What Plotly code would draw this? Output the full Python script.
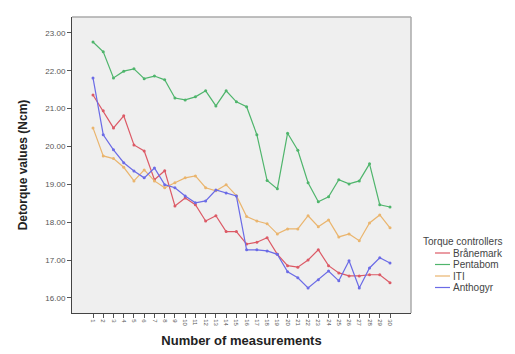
import plotly.graph_objects as go

measurements = list(range(1, 31))
tick_labels = [str(i) for i in measurements]

branemark = [21.36, 20.94, 20.49, 20.81, 20.04, 19.88, 19.12, 19.36, 18.43, 18.64,
             18.46, 18.03, 18.17, 17.75, 17.75, 17.42, 17.47, 17.59, 17.15, 16.85,
             16.81, 17.00, 17.27, 16.85, 16.66, 16.58, 16.58, 16.61, 16.61, 16.40]
pentabom = [22.76, 22.50, 21.81, 21.99, 22.05, 21.79, 21.86, 21.76, 21.28, 21.23,
            21.31, 21.47, 21.07, 21.47, 21.18, 21.05, 20.31, 19.10, 18.88, 20.35,
            19.90, 19.04, 18.54, 18.67, 19.12, 19.01, 19.09, 19.54, 18.46, 18.40]
iti = [20.49, 19.75, 19.68, 19.45, 19.09, 19.38, 19.09, 18.91, 19.04, 19.17,
       19.22, 18.91, 18.83, 18.99, 18.70, 18.15, 18.03, 17.96, 17.69, 17.82,
       17.82, 18.17, 17.88, 18.06, 17.61, 17.69, 17.51, 17.98, 18.19, 17.85]
anthogyr = [21.81, 20.31, 19.91, 19.57, 19.35, 19.17, 19.43, 18.99, 18.91, 18.69,
            18.51, 18.56, 18.85, 18.77, 18.69, 17.27, 17.27, 17.24, 17.15, 16.69,
            16.53, 16.26, 16.48, 16.71, 16.45, 16.98, 16.26, 16.79, 17.06, 16.92]

y_ticks = [16, 17, 18, 19, 20, 21, 22, 23]
legend_title = "Torque controllers"

series = [
    ("Brånemark", branemark, "#dc5a66"),
    ("Pentabom", pentabom, "#4fb56c"),
    ("ITI", iti, "#eab56e"),
    ("Anthogyr", anthogyr, "#6b6be6"),
]

fig = go.Figure()
for name, vals, color in series:
    fig.add_trace(go.Scatter(
        x=measurements, y=vals, name=name, mode="lines+markers",
        line=dict(color=color, width=1.2),
        marker=dict(color=color, size=3),
        showlegend=False,
    ))

font_family = "Liberation Sans, Arial, sans-serif"

# plot area in pixels: x 64..403, y 9..305
def px_x(p):
    return (p - 64) / 339.0

def px_y(p):
    return (305 - p) / 296.0

shapes = [
    dict(type="line", xref="paper", yref="paper", x0=0, x1=1, y0=1, y1=1,
         line=dict(color="#aaaaaa", width=1.5)),
    dict(type="line", xref="paper", yref="paper", x0=1, x1=1, y0=0, y1=1,
         line=dict(color="#aaaaaa", width=1.5)),
]
annotations = [
    dict(text=legend_title, xref="paper", yref="paper", x=px_x(413), y=px_y(233),
         xanchor="left", yanchor="middle", showarrow=False,
         font=dict(size=10, color="#444")),
]
for i, (name, _, color) in enumerate(series):
    yy = 245 + i * 11.5
    shapes.append(dict(type="line", xref="paper", yref="paper",
                       x0=px_x(427), x1=px_x(442), y0=px_y(yy), y1=px_y(yy),
                       line=dict(color=color, width=1.2)))
    annotations.append(dict(text=name, xref="paper", yref="paper",
                            x=px_x(443), y=px_y(yy), xanchor="left", yanchor="middle",
                            showarrow=False, font=dict(size=10, color="#444")))

fig.update_layout(
    width=515, height=354,
    margin=dict(l=64, r=112, t=9, b=49),
    paper_bgcolor="white",
    plot_bgcolor="#efefef",
    font=dict(family=font_family, color="#333"),
    showlegend=False,
    xaxis=dict(
        range=[-1.05, 32.05],
        tickmode="array", tickvals=measurements, ticktext=tick_labels,
        tickangle=90, tickfont=dict(size=6, color="#555"),
        ticks="outside", ticklen=4, tickcolor="#555",
        showgrid=False, zeroline=False,
        showline=True, linecolor="#444", linewidth=1,
        title=dict(text="<b>Number of measurements</b>", font=dict(size=13, color="#222"), standoff=10),
    ),
    yaxis=dict(
        range=[15.6, 23.42],
        tickmode="array", tickvals=y_ticks,
        tickformat=".2f", tickfont=dict(size=8, color="#555"),
        ticks="outside", ticklen=4, tickcolor="#555",
        showgrid=False, zeroline=False,
        showline=True, linecolor="#444", linewidth=1,
        title=dict(text="<b>Detorque values (Ncm)</b>", font=dict(size=12, color="#222"), standoff=15),
    ),
    shapes=shapes,
    annotations=annotations,
)

fig.write_html("out.html")
